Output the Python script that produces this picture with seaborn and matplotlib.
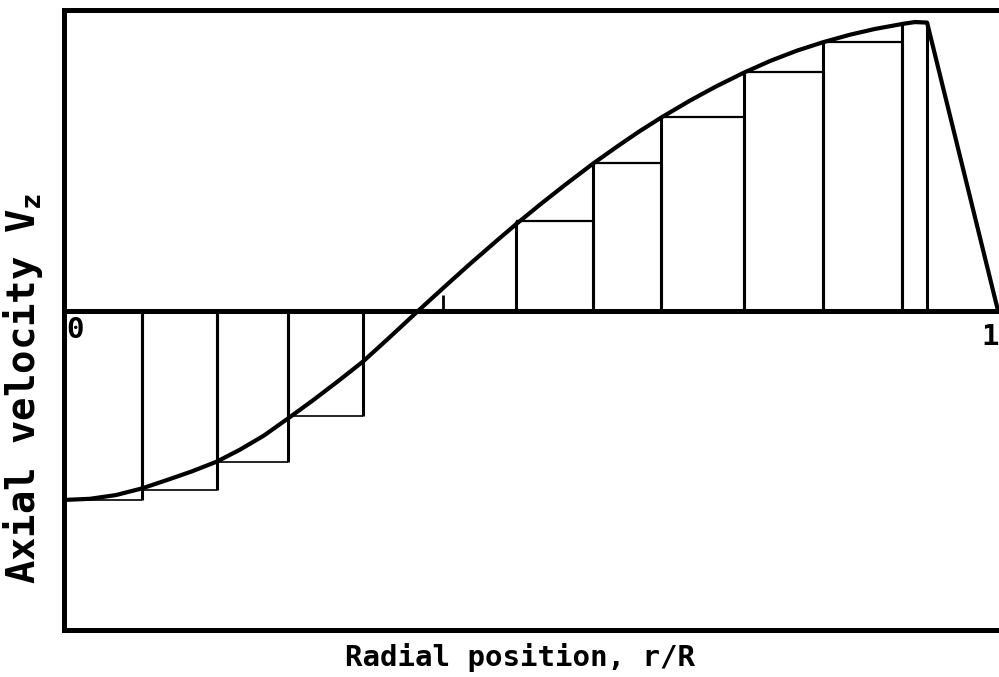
import matplotlib
matplotlib.use("Agg")
import matplotlib.pyplot as plt
import seaborn as sns
import pandas as pd

# Axial velocity profile across the radius (arbitrary units, peak = 1)
r_profile = [0.0, 0.0278, 0.0557, 0.0835, 0.1103, 0.1370, 0.1638, 0.1884,
             0.2141, 0.2398, 0.2666, 0.2934, 0.3201, 0.3490, 0.3790, 0.4058,
             0.4347, 0.4668, 0.4839, 0.5096, 0.5375, 0.5664, 0.5953, 0.6167,
             0.6392, 0.6702, 0.6981, 0.7281, 0.7559, 0.7848, 0.8126, 0.8415,
             0.8683, 0.8972, 0.9111, 0.9240, 1.0]
vz_profile = [-0.654, -0.650, -0.637, -0.614, -0.585, -0.555, -0.521, -0.480,
              -0.431, -0.372, -0.309, -0.243, -0.175, -0.090, 0.0, 0.079,
              0.163, 0.253, 0.300, 0.368, 0.439, 0.510, 0.576, 0.623,
              0.669, 0.728, 0.777, 0.825, 0.865, 0.901, 0.930, 0.956,
              0.976, 0.993, 1.000, 0.998, 0.0]

# Stepwise (rectangle) approximation: left edge, right edge, height
step_left = [0.0, 0.0835, 0.1638, 0.2398, 0.4839, 0.5664, 0.6392, 0.7281, 0.8126, 0.8972]
step_right = [0.0835, 0.1638, 0.2398, 0.3201, 0.5664, 0.6392, 0.7281, 0.8126, 0.8972, 0.9240]
step_height = [-0.654, -0.619, -0.522, -0.363, 0.311, 0.512, 0.671, 0.827, 0.931, 0.997]

# Short ordinate just past the zero crossing
marker_r = [0.4058]
marker_vz = [0.055]

tick_positions = [0.012, 0.991]
tick_heights = [-0.066, -0.09]
tick_texts = ["0", "1"]

sns.set_theme(style="white")
plt.rcParams["font.family"] = ["DejaVu Sans Mono", "DejaVu Sans"]
plt.rcParams["font.weight"] = "bold"

fig = plt.figure(figsize=(9.99, 6.77), dpi=100)
ax = fig.add_axes([64 / 999, 47 / 677, 935 / 999, 620 / 677])

profile = pd.DataFrame({"r": r_profile, "vz": vz_profile})
sns.lineplot(data=profile, x="r", y="vz", ax=ax, color="black", lw=3.0,
             sort=False, zorder=5)

# Rectangle sides and tops
for a, b, h in zip(step_left, step_right, step_height):
    ax.vlines([a, b], 0, h, color="black", lw=2.2, zorder=3)
    ax.hlines(h, a, b, color="black", lw=1.2 if h < 0 else 1.6, zorder=3)
ax.vlines(marker_r, 0, marker_vz, color="black", lw=2.0, zorder=3)

ax.axhline(0, color="black", lw=3.6, zorder=4)

for x, y, t in zip(tick_positions, tick_heights, tick_texts):
    ax.text(x, y, t, ha="center", va="center",
            fontsize=21, fontweight="bold", color="black")

ax.set_xlim(0, 1.001)
ax.set_ylim(-1.104, 1.0415)
ax.set_xticks([])
ax.set_yticks([])

for side in ["left", "top", "bottom"]:
    ax.spines[side].set_visible(True)
    ax.spines[side].set_color("black")
    ax.spines[side].set_linewidth(3.6)
ax.spines["right"].set_visible(False)

ax.set_xlabel("Radial position, r/R", fontsize=21, fontweight="bold",
              color="black", va="center")
ax.xaxis.set_label_coords(0.488, -0.045)
ax.set_ylabel(r"Axial velocity V$_\mathregular{z}$", fontsize=28,
              fontweight="bold", color="black", va="center")
ax.yaxis.set_label_coords(-0.044, 0.39)

fig.savefig("out.png", dpi=100)
